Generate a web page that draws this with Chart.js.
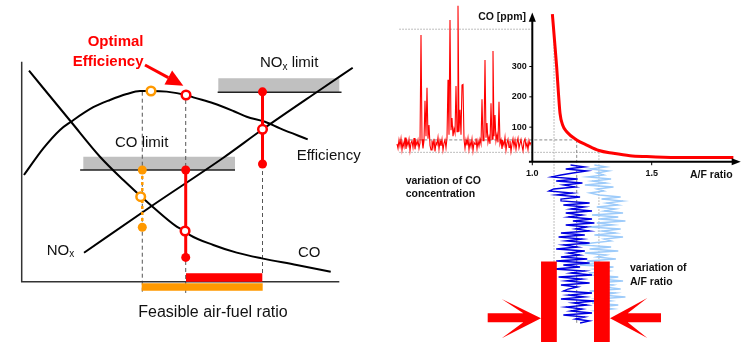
<!DOCTYPE html>
<html><head><meta charset="utf-8">
<script src="https://cdn.jsdelivr.net/npm/chart.js@4.4.1/dist/chart.umd.min.js"></script>
<style>html,body{margin:0;padding:0;background:#fff;}canvas{display:block;}</style>
</head><body>
<canvas id="c" width="741" height="342"></canvas>
<script>
// ===== LEFT DIAGRAM (arbitrary units: air-fuel ratio 0..10, response 0..10) =====
const effX = [0.072,0.68,1.206,1.552,2.254,2.78,3.306,3.725,4.071,4.565,5.173,5.403,6.033,6.663,7.084,7.66,8.133,9.005];
const effY = [4.85,6.06,6.90,7.27,7.93,8.26,8.53,8.67,8.67,8.64,8.49,8.38,8.11,7.76,7.50,7.27,6.97,6.47];
const coX  = [0.23,1.552,2.465,3.199,4.093,4.88,5.142,5.30,6.033,6.77,7.557,8.659,9.73];
const coY  = [9.59,7.27,5.68,4.62,3.44,2.5,2.30,2.12,1.67,1.32,1.06,0.76,0.45];
const noxX = [1.962,4.093,6.338,7.588,9.389,10.422];
const noxY = [1.318,3.441,5.623,6.927,8.714,9.727];
const coLimit = 5.077, noxLimit = 8.609;          // limit levels
const coLimitSpan = [1.94, 6.716], noxLimitSpan = [6.19, 10.0];
const afPeak = 3.797, afOpt = 5.164, afNox = 7.582; // dashed verticals
const orangeMarks = [5.077, 3.864, 2.473];          // CO limit, CO value, lower
const redMarksCO = [5.077, 2.305, 1.105];
const redMarksNOx = [8.63, 6.927, 5.35];
const effMarks = [[4.071, 8.668], [5.173, 8.486]];  // orange, red on efficiency
const feasibleRed = [5.173, 7.576], feasibleOrange = [3.778, 7.588];

// ===== RIGHT DIAGRAM =====
const afCurve = [1.084,1.093,1.102,1.110,1.116,1.127,1.144,1.186,1.228,1.279,1.339,1.409,1.479,1.549,1.70,1.842];
const coCurve = [473,387,299,206,146,107,85,58,41,23,14,6,3,1,0,0];
const coTicks = [100,200,300];
const afTicks = [1.0,1.5];
const afTickLabels = ['1.0','1.5'];
const coRef = [423,58,17];
const afRef = [1.091,1.186,1.279];
const coTrace = [45,30,58,38,62,25,50,35,66,28,54,40,60,22,48,55,33,64,27,52,42,58,30,48,
  404,60,30,55,187,70,230,62,107,40,
  25,56,35,62,20,50,42,66,28,55,38,60,24,47,58,32,65,
  256,75,453,90,130,70,95,80,236,85,500,85,157,75,239,241,60,
  30,58,40,64,26,52,36,61,22,50,44,63,29,55,38,60,
  45,192,55,70,321,65,114,50,68,45,179,60,351,70,140,55,75,50,184,45,
  58,28,52,40,66,24,48,60,33,55,20,45,62,36,57,27,50,64,31,46,59,38,22,53,61,35,48,26,56,42,50];
const afTraceA = [1.16,1.22,1.14,1.23,1.17,1.12,
  1.08,1.19,1.10,1.21,1.13,1.18,1.09,
  1.07,1.17,1.10,1.20,1.12,
  1.12,1.24,1.13,1.22,1.16,1.25,1.14,1.21,
  1.15,1.25,1.17,1.26,1.14,1.23,1.18,1.24,1.12,1.22,
  1.11,1.21,1.14,1.24,1.13,1.19,1.10,1.22,1.15,1.20,1.12,1.23,
  1.10,1.24,1.13,1.20,1.09,1.22,1.16,1.25,1.11,1.21,1.14,1.24,1.12,1.19,1.15,
  1.13,1.25,1.15,1.22,1.12,1.26,1.17,1.23,1.14,1.21,1.16,1.25,1.13,1.22,1.18,1.24,1.20];
const afTraceB = [1.26,1.31,1.24,1.32,1.27,1.30,
  1.23,1.33,1.25,1.31,1.22,1.34,1.27,1.30,1.24,
  1.28,1.37,1.29,1.38,1.31,1.36,1.27,1.35,1.30,1.38,
  1.25,1.36,1.28,1.39,1.27,1.34,1.24,1.37,1.29,1.35,1.26,1.38,1.30,1.33,1.25,
  1.21,1.33,1.24,1.36,1.22,1.31,1.27,1.35,1.23,1.30,1.20,1.34,1.26,1.32,1.24,
  1.25,1.36,1.28,1.38,1.26,1.34,1.30,1.37,1.24,1.35,1.29,1.39,1.27,1.33,1.25,1.36,1.28,1.34,1.26,1.31,1.28,1.30];
const afBand = [1.1026, 1.2584];   // variation range of A/F ratio (inner bar edges)

// ===== layout helpers =====
const FONT = '"Liberation Sans", Arial, Helvetica, sans-serif';
const W = 741, H = 342;
function fit(p1, v1, p2, v2, size) {
  const s = (v2 - v1) / (p2 - p1);
  const a = v1 - p1 * s, b = v1 + (size - p1) * s;
  return {min: Math.min(a, b), max: Math.max(a, b)};
}
const sc = (r, extra) => Object.assign({type:'linear', display:false, bounds:'data', grace:0, min:r.min, max:r.max}, extra || {});
const xy = (xs, ys) => xs.map((x, i) => ({x, y: ys[i]}));
const rect = (x1, x2, y1, y2) => [{x:x1,y:y1},{x:x2,y:y1},{x:x2,y:y2},{x:x1,y:y2},{x:x1,y:y1}];

const ds = [];
const add = (data, o) => ds.push(Object.assign({data, pointRadius:0, pointHoverRadius:0, borderWidth:2,
  borderColor:'#000', backgroundColor:'rgba(0,0,0,0)', fill:false, clip:false, tension:0,
  xAxisID:'x', yAxisID:'y'}, o || {}));
const shape = (pts, color, o) => add(pts, Object.assign({fill:'shape', backgroundColor:color, borderWidth:0, borderColor:'rgba(0,0,0,0)'}, o || {}));
const R = {xAxisID:'xR', yAxisID:'yR'};
const RT = {xAxisID:'xR', yAxisID:'yT'};
const RED = '#ff0000', ORANGE = '#ff9900';

// --- right: reference lines
const axisCO = -14, traceLeftAF = 0.443, refBottom = -570;
const dotRef = {borderColor:'#a8a8a8', borderWidth:1, borderDash:[1.5,1.5]};
const dashRef = {borderColor:'#888', borderWidth:1, borderDash:[3,2]};
add([{x:traceLeftAF,y:coRef[0]},{x:1.0,y:coRef[0]}], Object.assign({}, R, dotRef));
add([{x:traceLeftAF,y:coRef[1]},{x:afRef[1],y:coRef[1]}], Object.assign({}, R, dashRef));
add([{x:traceLeftAF,y:coRef[2]},{x:afRef[2],y:coRef[2]}], Object.assign({}, R, dotRef));
add([{x:afRef[0],y:coRef[0]},{x:afRef[0],y:refBottom}], Object.assign({}, R, dotRef));
add([{x:afRef[1],y:coRef[1]},{x:afRef[1],y:refBottom+25}], Object.assign({}, R, dashRef));
add([{x:afRef[2],y:coRef[2]},{x:afRef[2],y:refBottom}], Object.assign({}, R, dotRef));
// --- right: A/F traces
add(afTraceB.map((v, i) => ({x:v, y:i})), Object.assign({}, RT, {borderColor:'#9dcbfa', borderWidth:1.3}));
add(afTraceA.map((v, i) => ({x:v, y:i})), Object.assign({}, RT, {borderColor:'#0000e0', borderWidth:1.3}));
// --- right: CO trace & curve
add(coTrace.map((v, i) => ({x:i, y:v})), {xAxisID:'xT', yAxisID:'yR', borderColor:RED, borderWidth:1.1});
add(xy(afCurve, coCurve), Object.assign({}, R, {borderColor:RED, borderWidth:3, cubicInterpolationMode:'monotone'}));
// --- right: axes
add([{x:0.986,y:axisCO},{x:1.845,y:axisCO}], Object.assign({}, R, {borderWidth:2}));
shape([{x:1.835,y:axisCO+11.5},{x:1.873,y:axisCO},{x:1.835,y:axisCO-11.5},{x:1.835,y:axisCO+11.5}], '#000', R);
add([{x:1.0,y:axisCO},{x:1.0,y:452}], Object.assign({}, R, {borderWidth:2}));
shape([{x:0.985,y:447.7},{x:1.0,y:478},{x:1.015,y:447.7},{x:0.985,y:447.7}], '#000', R);
// --- right: bars and arrows
const barW = 0.066, barTop = 48.3, barBot = 90;
shape(rect(afBand[0]-barW, afBand[0], barTop, barBot), RED, RT);
shape(rect(afBand[1], afBand[1]+barW, barTop, barBot), RED, RT);
shape([{x:0.8132,y:74.15},{x:0.9623,y:74.15},{x:0.8719,y:67},{x:1.0364,y:76.65},{x:0.8719,y:86.65},
       {x:0.9623,y:78.65},{x:0.8132,y:78.65},{x:0.8132,y:74.15}], RED, RT);
shape([{x:1.5389,y:74.15},{x:1.3995,y:74.15},{x:1.4816,y:66.5},{x:1.3254,y:76.65},{x:1.4816,y:86.5},
       {x:1.3995,y:78.65},{x:1.5389,y:78.65},{x:1.5389,y:74.15}], RED, RT);

// --- left: limit bars
const GRAY = '#c0c0c0';
shape(rect(coLimitSpan[0], coLimitSpan[1], coLimit, coLimit + 0.605), GRAY);
shape(rect(noxLimitSpan[0], noxLimitSpan[1], noxLimit, noxLimit + 0.636), GRAY);
add([{x:coLimitSpan[0]-0.1,y:coLimit},{x:coLimitSpan[1],y:coLimit}], {borderWidth:1.6, borderColor:'#222'});
add([{x:noxLimitSpan[0]-0.02,y:noxLimit},{x:noxLimitSpan[1]+0.07,y:noxLimit}], {borderWidth:1.6, borderColor:'#222'});
// --- left: dashed verticals
const dashV = {borderColor:'#555', borderWidth:1, borderDash:[4,3]};
add([{x:afPeak,y:8.636},{x:afPeak,y:-0.514}], dashV);
add([{x:afOpt,y:8.26},{x:afOpt,y:-0.514}], dashV);
add([{x:afNox,y:redMarksNOx[2]},{x:afNox,y:0.395}], dashV);
// --- left: curves
add(xy(effX, effY), {cubicInterpolationMode:'monotone', borderWidth:2});
add(xy(coX, coY), {cubicInterpolationMode:'monotone', borderWidth:2});
add(xy(noxX, noxY), {cubicInterpolationMode:'monotone', borderWidth:2});
// --- left: axes
add([{x:0,y:10},{x:0,y:0},{x:10,y:0}], {borderWidth:1.5, borderColor:'#333'});
// --- left: feasible bars
shape(rect(feasibleRed[0], feasibleRed[1], 0, 0.382), RED);
shape(rect(feasibleOrange[0], feasibleOrange[1], -0.409, -0.073), ORANGE);
// --- left: markers
const dot = c => ({pointRadius:4.5, pointBackgroundColor:c, pointBorderWidth:0, pointBorderColor:c});
const ring = c => ({showLine:false, pointRadius:4.3, pointBorderWidth:2.5, pointBorderColor:c, pointBackgroundColor:'#fff'});
add([{x:afPeak,y:orangeMarks[0]},{x:afPeak,y:orangeMarks[2]}], Object.assign({borderColor:ORANGE, borderWidth:2.5, borderDash:[3,3]}, dot(ORANGE)));
add([{x:afPeak-0.05,y:orangeMarks[1]}], ring(ORANGE));
add([{x:afOpt,y:redMarksCO[0]},{x:afOpt,y:redMarksCO[2]}], Object.assign({borderColor:RED, borderWidth:3}, dot(RED)));
add([{x:afOpt-0.02,y:redMarksCO[1]}], ring(RED));
add([{x:afNox,y:redMarksNOx[0]},{x:afNox,y:redMarksNOx[2]}], Object.assign({borderColor:RED, borderWidth:3}, dot(RED)));
add([{x:afNox,y:redMarksNOx[1]}], ring(RED));
add([{x:effMarks[0][0],y:effMarks[0][1]}], ring(ORANGE));
add([{x:effMarks[1][0],y:effMarks[1][1]}], ring(RED));
// --- left: optimal efficiency arrow
add([{x:3.882,y:9.85},{x:4.616,y:9.277}], {borderColor:RED, borderWidth:3});
shape([{x:5.088,y:8.909},{x:4.496,y:8.959},{x:4.736,y:9.595},{x:5.088,y:8.909}], RED);

// painter's order: later datasets on top
ds.forEach((d, i) => { d.order = ds.length - i; });

// ===== text =====
const F15 = '15px ' + FONT, SUB = '10px ' + FONT, B105 = 'bold 10.5px ' + FONT;
const textLabels = [
  {parts:[{t:'Optimal'}], x:3.835, y:10.909, xs:'x', ys:'y', align:'right', font:'bold 15px ' + FONT, color:RED},
  {parts:[{t:'Efficiency'}], x:3.835, y:10.0, xs:'x', ys:'y', align:'right', font:'bold 15px ' + FONT, color:RED},
  {parts:[{t:'NO'},{t:'x',sub:true},{t:' limit'}], x:7.503, y:9.927, xs:'x', ys:'y', font:F15, color:'#111'},
  {parts:[{t:'CO limit'}], x:2.938, y:6.305, xs:'x', ys:'y', font:F15, color:'#111'},
  {parts:[{t:'Efficiency'}], x:8.659, y:5.727, xs:'x', ys:'y', font:F15, color:'#111'},
  {parts:[{t:'NO'},{t:'x',sub:true}], x:0.787, y:1.409, xs:'x', ys:'y', font:F15, color:'#111'},
  {parts:[{t:'CO'}], x:8.70, y:1.291, xs:'x', ys:'y', font:F15, color:'#111'},
  {parts:[{t:'Feasible air-fuel ratio'}], x:3.671, y:-1.409, xs:'x', ys:'y', font:'16px ' + FONT, color:'#111'},
  {parts:[{t:'CO [ppm]'}], x:0.9737, y:462, xs:'xR', ys:'yR', align:'right', font:B105, color:'#111'},
  {parts:[{t:'A/F ratio'}], x:1.6604, y:-57.7, xs:'xR', ys:'yR', font:B105, color:'#111'},
  {parts:[{t:'variation of CO'}], x:0.4698, y:-76.5, xs:'xR', ys:'yR', font:B105, color:'#111'},
  {parts:[{t:'concentration'}], x:0.4698, y:-120.3, xs:'xR', ys:'yR', font:B105, color:'#111'},
  {parts:[{t:'variation of'}], x:1.4091, y:-365.3, xs:'xR', ys:'yR', font:B105, color:'#111'},
  {parts:[{t:'A/F ratio'}], x:1.4091, y:-409.5, xs:'xR', ys:'yR', font:B105, color:'#111'}
];
function drawParts(ctx, parts, x, y, font, align) {
  let total = 0;
  parts.forEach(p => { ctx.font = p.sub ? SUB : font; total += ctx.measureText(p.t).width; });
  let cx = align === 'right' ? x - total : (align === 'center' ? x - total / 2 : x);
  ctx.textAlign = 'left';
  parts.forEach(p => { ctx.font = p.sub ? SUB : font; ctx.fillText(p.t, cx, y + (p.sub ? 4 : 0)); cx += ctx.measureText(p.t).width; });
}
const annot = {
  id: 'annot',
  afterDraw(chart) {
    const ctx = chart.ctx, S = chart.scales;
    ctx.save();
    ctx.textBaseline = 'middle';
    textLabels.forEach(lb => {
      ctx.fillStyle = lb.color;
      drawParts(ctx, lb.parts, S[lb.xs].getPixelForValue(lb.x), S[lb.ys].getPixelForValue(lb.y), lb.font, lb.align);
    });
    ctx.strokeStyle = '#000'; ctx.lineWidth = 1; ctx.fillStyle = '#111';
    ctx.font = 'bold 9px ' + FONT;
    const x0 = S.xR.getPixelForValue(1.0);
    coTicks.forEach(v => {
      const py = S.yR.getPixelForValue(v);
      ctx.beginPath(); ctx.moveTo(x0 - 3, py); ctx.lineTo(x0, py); ctx.stroke();
      ctx.textAlign = 'right'; ctx.fillText(String(v), x0 - 5.5, py);
    });
    const y0 = S.yR.getPixelForValue(axisCO);
    afTicks.forEach((v, i) => {
      const px = S.xR.getPixelForValue(v);
      ctx.beginPath(); ctx.moveTo(px, y0); ctx.lineTo(px, y0 + 3.5); ctx.stroke();
      ctx.textAlign = 'center'; ctx.fillText(afTickLabels[i], px, y0 + 11.5);
    });
    ctx.restore();
  }
};

new Chart(document.getElementById('c'), {
  type: 'line',
  data: {datasets: ds},
  options: {
    responsive: false, maintainAspectRatio: false, animation: false, devicePixelRatio: 1,
    events: [],
    layout: {autoPadding: false, padding: 0},
    plugins: {legend: {display: false}, tooltip: {enabled: false}, title: {display: false}},
    scales: {
      x: sc(fit(21.7, 0, 339.3, 10, W), {axis:'x'}),
      y: sc(fit(281.7, 0, 61.7, 10, H), {axis:'y'}),
      xR: sc(fit(532.3, 1.0, 651.7, 1.5, W), {axis:'x'}),
      yR: sc(fit(157.5, 0, 66.5, 300, H), {axis:'y'}),
      xT: sc(fit(397, 0, 531, 134, W), {axis:'x'}),
      yT: sc(fit(165, 0, 321, 78, H), {axis:'y', reverse:true})
    }
  },
  plugins: [annot]
});
</script>
</body></html>
